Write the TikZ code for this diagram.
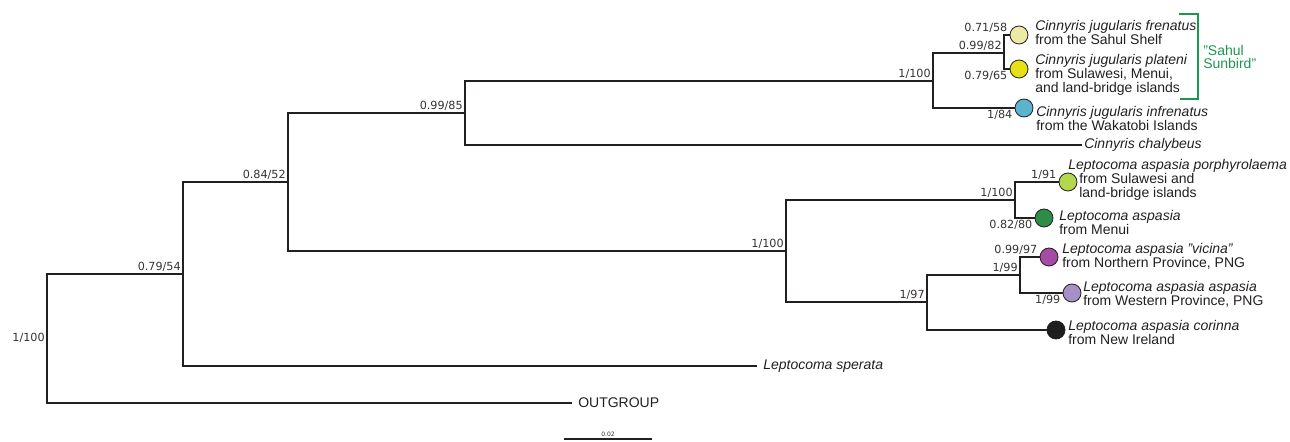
\documentclass[tikz,border=0pt]{standalone}
\usepackage{fontspec}
\setmainfont{Liberation Sans}
\newfontfamily\supportfont{DejaVu Sans}
\usetikzlibrary{positioning}
\definecolor{ink}{HTML}{231F20}
\definecolor{labelgray}{HTML}{333333}
\definecolor{sahulgreen}{HTML}{1E9650}
\definecolor{cfrenatus}{HTML}{EBEBA5}
\definecolor{cplateni}{HTML}{E6E114}
\definecolor{cinfrenatus}{HTML}{5AB4CD}
\definecolor{cporphyrolaema}{HTML}{B4D750}
\definecolor{cmenui}{HTML}{2D8C46}
\definecolor{cvicina}{HTML}{A54BA5}
\definecolor{caspasia}{HTML}{A591C8}
\definecolor{ccorinna}{HTML}{1E1E1E}
\tikzset{
  branch/.style={draw=ink,line width=1.8pt},
  tipdot/.style={circle,draw=ink,line width=0.6pt,minimum size=13.5pt,inner sep=0pt},
  taxon/.style={anchor=west,align=left,inner sep=0pt,text=ink,font=\fontsize{10.5}{10.5}\selectfont},
  support/.style={inner sep=1.5pt,text=labelgray,font=\supportfont\fontsize{8.4}{9}\selectfont}
}
\begin{document}
\begin{tikzpicture}[x=0.75pt,y=-0.75pt]
  \useasboundingbox (0,0) rectangle (1290,442);
  \coordinate (root) at (47,338);
  \coordinate (n1) at (183,274);
  \coordinate (n2) at (288,182);
  \coordinate (n3) at (465,113);
  \coordinate (n4) at (933,81);
  \coordinate (n5) at (1004,53);
  \coordinate (n6) at (786,251);
  \coordinate (n7) at (1015,200);
  \coordinate (n8) at (927,302);
  \coordinate (n9) at (1020,275);
  \coordinate (outgroup) at (572,403);
  \coordinate (sperata) at (757,366);
  \coordinate (chalybeus) at (1082,145);
  \node[tipdot,fill=cfrenatus] (frenatus) at (1019,35) {};
  \node[tipdot,fill=cplateni] (plateni) at (1019,69) {};
  \node[tipdot,fill=cinfrenatus] (infrenatus) at (1024,108) {};
  \node[tipdot,fill=cporphyrolaema] (porphyrolaema) at (1068,182) {};
  \node[tipdot,fill=cmenui] (menui) at (1044,218) {};
  \node[tipdot,fill=cvicina] (vicina) at (1049,257) {};
  \node[tipdot,fill=caspasia] (aspasia) at (1072,293) {};
  \node[tipdot,fill=ccorinna] (corinna) at (1056,330) {};
  \begin{scope}[branch]
    \draw (root) |- (n1);
    \draw (root) |- (outgroup);
    \draw (n1) |- (n2);
    \draw (n1) |- (sperata);
    \draw (n2) |- (n3);
    \draw (n2) |- (n6);
    \draw (n3) |- (n4);
    \draw (n3) |- (chalybeus);
    \draw (n4) |- (n5);
    \draw (n4) |- (infrenatus);
    \draw (n5) |- (frenatus);
    \draw (n5) |- (plateni);
    \draw (n6) |- (n7);
    \draw (n6) |- (n8);
    \draw (n7) |- (porphyrolaema);
    \draw (n7) |- (menui);
    \draw (n8) |- (n9);
    \draw (n8) |- (corinna);
    \draw (n9) |- (vicina);
    \draw (n9) |- (aspasia);
  \end{scope}
  \node[support,left] at (root) {1/100};
  \node[support,above left] at (n1) {0.79/54};
  \node[support,above left] at (n2) {0.84/52};
  \node[support,above left] at (n3) {0.99/85};
  \node[support,above left] at (n4) {1/100};
  \node[support,above left] at (n5) {0.99/82};
  \node[support,above left] at (n6) {1/100};
  \node[support,above left] at (n7) {1/100};
  \node[support,above left] at (n8) {1/97};
  \node[support,above left] at (n9) {1/99};
  \node[support,above left] at (frenatus.west) {0.71/58};
  \node[support,below left] at (plateni.west) {0.79/65};
  \node[support,below left] at (infrenatus.west) {1/84};
  \node[support,above left] at (porphyrolaema.west) {1/91};
  \node[support,below left] at (menui.west) {0.82/80};
  \node[support,above left] at (vicina.west) {0.99/97};
  \node[support,below left] at (aspasia.west) {1/99};
  \node[taxon] at (1035,32) {\textit{Cinnyris jugularis frenatus}\\from the Sahul Shelf};
  \node[taxon] at (1035,75) {\textit{Cinnyris jugularis plateni}\\from Sulawesi, Menui,\\and land-bridge islands};
  \node[taxon] at (1036,118) {\textit{Cinnyris jugularis infrenatus}\\from the Wakatobi Islands};
  \node[taxon] at (1084,145) {\textit{Cinnyris chalybeus}};
  \node[taxon] at (1079,180) {\hspace*{-8.25pt}\textit{Leptocoma aspasia porphyrolaema}\\from Sulawesi and\\land-bridge islands};
  \node[taxon] at (1059,222) {\textit{Leptocoma aspasia}\\from Menui};
  \node[taxon] at (1062,256) {\textit{Leptocoma aspasia "vicina"}\\from Northern Province, PNG};
  \node[taxon] at (1083,294) {\textit{Leptocoma aspasia aspasia}\\from Western Province, PNG};
  \node[taxon] at (1068,332) {\textit{Leptocoma aspasia corinna}\\from New Ireland};
  \node[taxon] at (763,366) {\textit{Leptocoma sperata}};
  \node[taxon] at (578,403) {OUTGROUP};
  \coordinate (brtop) at (1179,14);
  \coordinate (brbot) at (1180,99);
  \draw[sahulgreen,line width=0.9pt] (brtop) -| (1198,56) |- (brbot);
  \node[taxon,text=sahulgreen,font=\fontsize{10.5}{9.5}\selectfont] at (1203,57) {"Sahul\\Sunbird"};
  \coordinate (scaleleft) at (564,439);
  \coordinate (scaleright) at (652,439);
  \draw[draw=ink,line width=1.5pt] (scaleleft) -- (scaleright) node[midway,above=1pt,inner sep=0pt,text=labelgray,font=\supportfont\fontsize{4.5}{5}\selectfont] {0.02};
\end{tikzpicture}
\end{document}
